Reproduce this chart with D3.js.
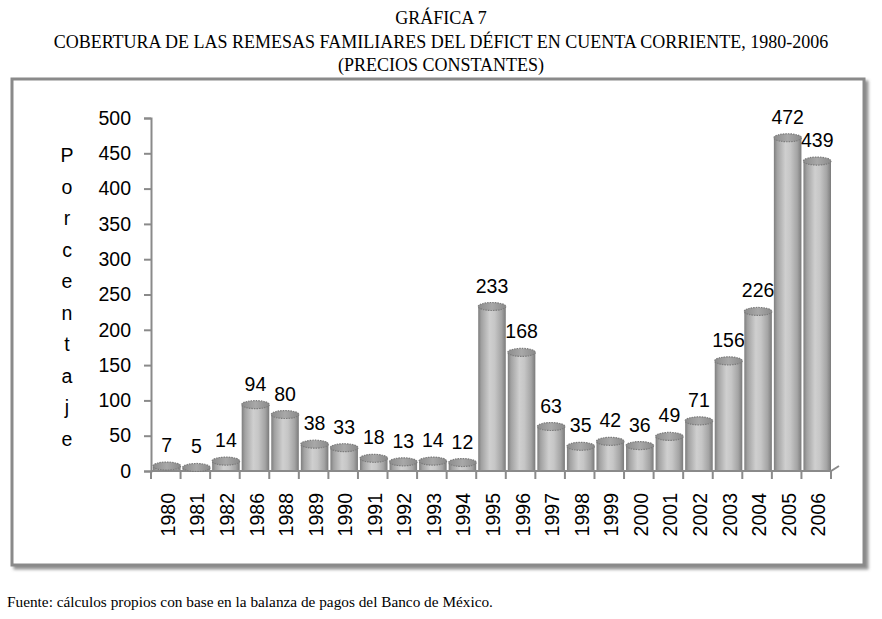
<!DOCTYPE html>
<html>
<head>
<meta charset="utf-8">
<script src="https://cdn.jsdelivr.net/npm/d3@7"></script>
<style>
  body { margin: 0; background: #fff; }
  svg { display: block; }
</style>
</head>
<body>
<svg id="chart" width="882" height="619"></svg>
<script>
const YEARS = ["1980", "1981", "1982", "1986", "1988", "1989", "1990", "1991", "1992", "1993", "1994", "1995",
  "1996", "1997", "1998", "1999", "2000", "2001", "2002", "2003", "2004", "2005", "2006"];
const VALUES = [7, 5, 14, 94, 80, 38, 33, 18, 13, 14, 12, 233, 168, 63, 35, 42, 36, 49, 71, 156, 226, 472, 439];
const Y_TICKS = [0, 50, 100, 150, 200, 250, 300, 350, 400, 450, 500];
const Y_LABEL = "Porcentaje";
const TITLES = [
  "GRÁFICA 7",
  "COBERTURA DE LAS REMESAS FAMILIARES DEL DÉFICT EN CUENTA CORRIENTE, 1980-2006",
  "(PRECIOS CONSTANTES)"
];
const SOURCE = "Fuente: cálculos propios con base en la balanza de pagos del Banco de México.";

const SVG = d3.select("#chart");
const WIDTH = 882;
const PLOT = { left: 151, right: 831, top: 118, bottom: 471 };
const SANS = "Liberation Sans, Arial, sans-serif";
const SERIF = "Liberation Serif, Times New Roman, serif";

const defs = SVG.append("defs");

// cylinder shading
const grad = defs.append("linearGradient").attr("id", "cyl").attr("x1", "0").attr("x2", "1");
[[0, "#7e7e7e"], [0.12, "#a2a2a2"], [0.42, "#cfcfcf"], [0.6, "#c6c6c6"], [0.85, "#a4a4a4"], [1, "#7a7a7a"]]
  .forEach(([o, c]) => grad.append("stop").attr("offset", o).attr("stop-color", c));
const gradTop = defs.append("linearGradient").attr("id", "cyltop").attr("x1", "0").attr("x2", "1");
[[0, "#8c8c8c"], [0.5, "#a8a8a8"], [1, "#8a8a8a"]]
  .forEach(([o, c]) => gradTop.append("stop").attr("offset", o).attr("stop-color", c));

const shadow = defs.append("filter").attr("id", "shadow")
  .attr("x", "-5%").attr("y", "-5%").attr("width", "110%").attr("height", "110%");
shadow.append("feDropShadow").attr("dx", 3).attr("dy", 3).attr("stdDeviation", 1.5)
  .attr("flood-color", "#777").attr("flood-opacity", 0.8);

// titles
SVG.append("g").selectAll("text")
  .data(TITLES)
  .join("text")
  .attr("x", WIDTH / 2)
  .attr("y", (d, i) => 24 + i * 23.5)
  .attr("text-anchor", "middle")
  .attr("font-family", SERIF)
  .attr("font-size", 18)
  .text((d) => d);

// frame
SVG.append("rect")
  .attr("x", 12).attr("y", 79).attr("width", 852).attr("height", 486)
  .attr("fill", "#fff")
  .attr("stroke", "#8a8a8a").attr("stroke-width", 3)
  .attr("filter", "url(#shadow)");

const xScale = d3.scaleBand().domain(YEARS).range([PLOT.left, PLOT.right]).padding(0);
const yScale = d3.scaleLinear().domain([0, 500]).range([PLOT.bottom, PLOT.top]);
const bw = xScale.bandwidth();

// y axis
const yAxis = SVG.append("g")
  .attr("transform", "translate(" + PLOT.left + ",0)")
  .call(d3.axisLeft(yScale).tickValues(Y_TICKS).tickSize(7).tickPadding(13));
yAxis.select(".domain").attr("stroke", "#8a8a8a").attr("stroke-width", 2);
yAxis.selectAll(".tick line").attr("stroke", "#8a8a8a").attr("stroke-width", 2);
yAxis.selectAll(".tick text")
  .attr("font-family", SANS).attr("font-size", 19.5).attr("fill", "#000");

// floor line
SVG.append("path")
  .attr("d", "M" + PLOT.left + "," + PLOT.bottom + "H" + PLOT.right + "l8,-5")
  .attr("fill", "none").attr("stroke", "#8a8a8a").attr("stroke-width", 2);

// x ticks at band boundaries
SVG.append("g").selectAll("line")
  .data(YEARS.map((d) => xScale(d)).concat([PLOT.right]))
  .join("line")
  .attr("x1", (d) => d).attr("x2", (d) => d)
  .attr("y1", PLOT.bottom).attr("y2", PLOT.bottom + 8)
  .attr("stroke", "#8a8a8a").attr("stroke-width", 2);

// x labels
const xAxis = SVG.append("g")
  .attr("transform", "translate(0," + PLOT.bottom + ")")
  .call(d3.axisBottom(xScale).tickSize(0));
xAxis.select(".domain").remove();
xAxis.selectAll(".tick text")
  .attr("font-family", SANS).attr("font-size", 19.5).attr("fill", "#000")
  .attr("text-anchor", "end")
  .attr("transform", "translate(2,22) rotate(-90)")
  .attr("x", 0).attr("y", 0).attr("dy", "0.36em");

// y label, stacked letters
SVG.append("g").selectAll("text")
  .data(Y_LABEL.split(""))
  .join("text")
  .attr("x", 67)
  .attr("y", (d, i) => 162 + i * 31.5)
  .attr("text-anchor", "middle")
  .attr("font-family", SANS).attr("font-size", 19.5)
  .text((d) => d);

// cylinders
const bars = SVG.append("g").selectAll("g")
  .data(YEARS.map((d, i) => ({ year: d, value: VALUES[i] })))
  .join("g")
  .attr("transform", (d) => "translate(" + (xScale(d.year) + 2) + ",0)");
const cw = bw - 2;
const ry = 4;
bars.append("path")
  .attr("d", (d) => {
    const top = yScale(d.value);
    return "M0," + top + "V" + (PLOT.bottom - 1) + "H" + cw + "V" + top + "Z";
  })
  .attr("fill", "url(#cyl)");
bars.append("ellipse")
  .attr("cx", cw / 2).attr("cy", (d) => yScale(d.value))
  .attr("rx", cw / 2).attr("ry", ry)
  .attr("fill", "url(#cyltop)")
  .attr("stroke", "#7c7c7c").attr("stroke-width", 1.2)
  .attr("stroke-dasharray", "1.5,1");

// value labels
bars.append("text")
  .attr("x", cw / 2)
  .attr("y", (d) => yScale(d.value) - 14)
  .attr("text-anchor", "middle")
  .attr("font-family", SANS).attr("font-size", 19.5)
  .text((d) => d.value);

// source
SVG.append("text")
  .attr("x", 7).attr("y", 607)
  .attr("font-family", SERIF).attr("font-size", 15.3)
  .text(SOURCE);
</script>
</body>
</html>
